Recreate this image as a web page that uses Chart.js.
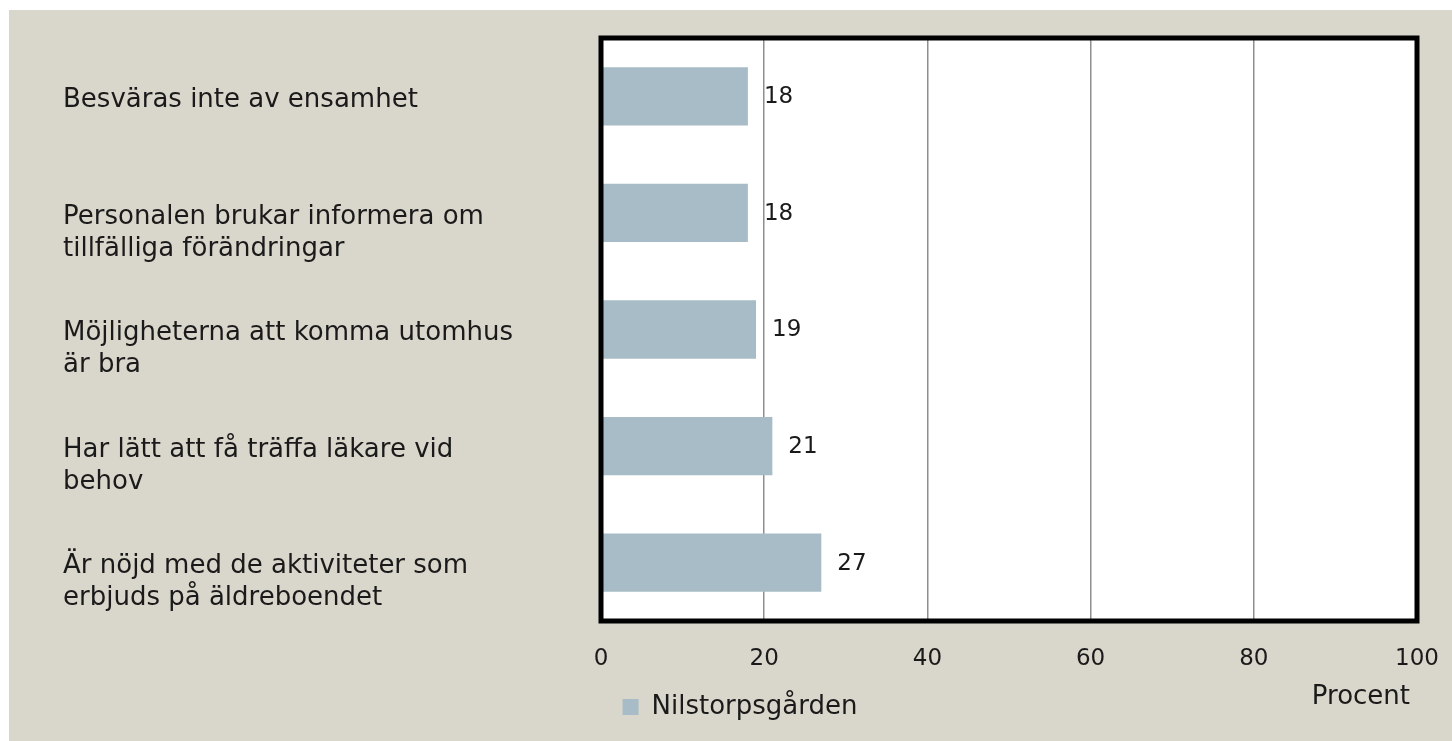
<!DOCTYPE html>
<html>
<head>
<meta charset="utf-8">
<script src="https://cdn.jsdelivr.net/npm/chart.js@4.4.1/dist/chart.umd.min.js"></script>
<style>
  body { margin: 0; background: #ffffff; }
  #wrap { position: absolute; left: 9px; top: 10px; width: 1443px; height: 731px; background: #d9d6cb; }
</style>
</head>
<body>
<div id="wrap"><canvas id="myChart"></canvas></div>
<script>
const labels = [
  ['Besväras inte av ensamhet', ''],
  ['Personalen brukar informera om', 'tillfälliga förändringar'],
  ['Möjligheterna att komma utomhus', 'är bra'],
  ['Har lätt att få träffa läkare vid', 'behov'],
  ['Är nöjd med de aktiviteter som', 'erbjuds på äldreboendet']
];
const values = [18, 18, 19, 21, 27];
const seriesName = 'Nilstorpsgården';
const xTicks = [0, 20, 40, 60, 80, 100];
const axisTitle = 'Procent';

const FONT = 'DejaVu Sans';

// white plot area, black frame, value labels and the axis title
const decorations = {
  id: 'decorations',
  beforeDraw(chart) {
    const a = chart.chartArea, ctx = chart.ctx;
    ctx.save();
    ctx.fillStyle = '#ffffff';
    ctx.fillRect(a.left, a.top, a.right - a.left, a.bottom - a.top);
    ctx.restore();
  },
  afterDatasetsDraw(chart) {
    const a = chart.chartArea, ctx = chart.ctx;
    ctx.save();
    ctx.strokeStyle = '#000000';
    ctx.lineWidth = 5;
    ctx.strokeRect(a.left, a.top, a.right - a.left, a.bottom - a.top);

    ctx.fillStyle = '#1a1a1a';
    ctx.font = '23px "' + FONT + '"';
    ctx.textAlign = 'left';
    ctx.textBaseline = 'middle';
    chart.getDatasetMeta(0).data.forEach((bar, i) => {
      ctx.fillText(values[i], bar.x + 16, bar.y + 1);
    });

    ctx.font = '26px "' + FONT + '"';
    ctx.textAlign = 'right';
    ctx.fillText(axisTitle, a.right - 7, 687);
    ctx.restore();
  }
};

function noPad(scale) {
  scale.paddingTop = 0;
  scale.paddingBottom = 0;
  scale.paddingLeft = 0;
  scale.paddingRight = 0;
}

const data = {
  labels: labels,
  datasets: [{
    label: seriesName,
    data: values,
    backgroundColor: '#a7bcc6',
    borderWidth: 0,
    categoryPercentage: 1,
    barPercentage: 0.5
  }]
};

const config = {
  type: 'bar',
  data: data,
  plugins: [decorations],
  options: {
    indexAxis: 'y',
    responsive: true,
    maintainAspectRatio: false,
    animation: false,
    layout: {
      padding: { left: 54, right: 35, top: 28, bottom: 11 }
    },
    plugins: {
      legend: {
        position: 'bottom',
        labels: {
          boxWidth: 16,
          boxHeight: 16,
          color: '#1a1a1a',
          font: { family: FONT, size: 26 }
        }
      },
      tooltip: { enabled: false }
    },
    scales: {
      x: {
        min: 0,
        max: 100,
        afterBuildTicks(scale) {
          scale.ticks = xTicks.map(v => ({ value: v }));
        },
        afterFit(scale) { scale.height = 63; noPad(scale); },
        grid: { color: '#8e8e8e', lineWidth: 1.5, drawTicks: false },
        border: { display: false },
        ticks: {
          padding: 24,
          color: '#1a1a1a',
          font: { family: FONT, size: 23 }
        }
      },
      y: {
        afterFit(scale) { scale.width = 538; noPad(scale); },
        grid: { display: false },
        border: { display: false },
        ticks: {
          crossAlign: 'far',
          labelOffset: 20,
          color: '#1a1a1a',
          font: { family: FONT, size: 26, lineHeight: '32px' }
        }
      }
    }
  }
};

new Chart(document.getElementById('myChart').getContext('2d'), config);
</script>
</body>
</html>
